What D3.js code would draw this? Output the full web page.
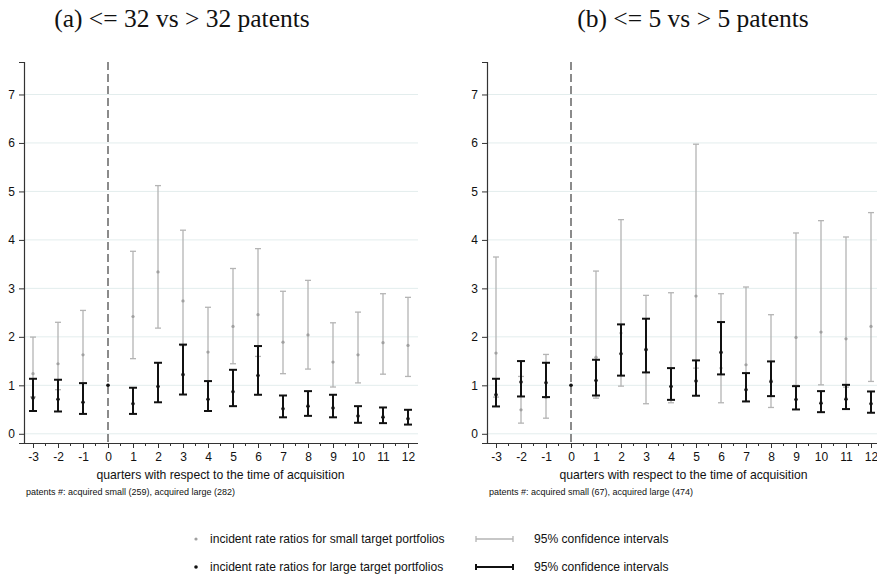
<!DOCTYPE html>
<html><head><meta charset="utf-8">
<script src="https://cdn.jsdelivr.net/npm/d3@7"></script>
<style>body{margin:0;background:#fff}svg{display:block}</style>
</head><body>
<svg id="chart" width="877" height="578"></svg>
<script>
const quarters = [-3,-2,-1,0,1,2,3,4,5,6,7,8,9,10,11,12];
const yTicks = [0,1,2,3,4,5,6,7];
const xTicks = [-3,-2,-1,0,1,2,3,4,5,6,7,8,9,10,11,12];

// panel (a)
const aSmallIRR = [1.24,1.445,1.63,1,2.42,3.34,2.74,1.685,2.215,2.457,1.89,2.04,1.48,1.63,1.88,1.823];
const aSmallLo  = [0.76,0.91,1.04,null,1.55,2.18,1.82,1.09,1.445,1.596,1.24,1.335,0.965,1.05,1.23,1.183];
const aSmallHi  = [1.995,2.30,2.545,null,3.765,5.12,4.2,2.61,3.41,3.82,2.94,3.165,2.29,2.51,2.89,2.815];
const aLargeIRR = [0.74,0.71,0.65,1,0.62,0.977,1.22,0.71,0.867,1.2,0.515,0.57,0.53,0.365,0.343,0.31];
const aLargeLo  = [0.47,0.46,0.41,null,0.41,0.65,0.81,0.47,0.57,0.805,0.34,0.37,0.34,0.227,0.22,0.19];
const aLargeHi  = [1.135,1.115,1.045,null,0.95,1.465,1.84,1.087,1.32,1.81,0.79,0.88,0.805,0.57,0.543,0.495];

// panel (b)
const bSmallIRR = [1.665,0.495,0.75,1,1.58,2.077,1.75,0.98,2.842,1.355,1.424,1.1,1.988,2.098,1.96,2.215];
const bSmallLo  = [0.757,0.22,0.322,null,0.735,0.983,0.62,0.64,1.355,0.64,0.67,0.543,1.0,1.01,0.963,1.08];
const bSmallHi  = [3.647,1.183,1.637,null,3.357,4.418,2.856,2.91,5.974,2.89,3.028,2.457,4.143,4.397,4.06,4.563];
const bLargeIRR = [0.805,1.066,1.053,1,1.1,1.65,1.734,0.977,1.087,1.679,0.908,1.073,0.708,0.632,0.715,0.62];
const bLargeLo  = [0.564,0.77,0.757,null,0.79,1.2,1.266,0.70,0.785,1.225,0.667,0.777,0.502,0.446,0.51,0.434];
const bLargeHi  = [1.135,1.5,1.465,null,1.527,2.257,2.374,1.355,1.514,2.305,1.252,1.493,0.983,0.88,1.01,0.873];

const titles = ["(a) <= 32 vs > 32 patents", "(b) <= 5 vs > 5 patents"];
const notes = ["patents #: acquired small (259), acquired large (282)", "patents #: acquired small (67), acquired large (474)"];
const xLabel = "quarters with respect to the time of acquisition";
const legendLabels = ["incident rate ratios for small target portfolios", "incident rate ratios for large target portfolios"];
const ciLabel = "95% confidence intervals";

const svg = d3.select("#chart");
const sans = "'Liberation Sans', Arial, sans-serif";
const serif = "'Liberation Serif', 'Times New Roman', serif";
const GRAY = "#b4b4b4", GRAYDOT = "#a0a0a0", BLACK = "#111";

function panel(left, titleX, title, note, sm, smLo, smHi, lg, lgLo, lgHi, rightEdge) {
  const g = svg.append("g");
  const x = d3.scaleLinear().domain([-3.36, 12.4]).range([left, left + 394]);
  const y = d3.scaleLinear().domain([-0.19, 7.67]).range([443, 62]);

  g.append("g").selectAll("line").data(yTicks).join("line")
    .attr("x1", left).attr("x2", rightEdge)
    .attr("y1", d => y(d)).attr("y2", d => y(d))
    .attr("stroke", "#e3eded").attr("stroke-width", 1);

  const ya = g.append("g").attr("transform", `translate(${left},0)`)
    .call(d3.axisLeft(y).tickValues(yTicks).tickSize(5).tickPadding(4).tickFormat(d => String(d)));
  const xa = g.append("g").attr("transform", `translate(0,443)`)
    .call(d3.axisBottom(x).tickValues(xTicks).tickSize(5).tickPadding(4).tickFormat(d => String(d)));
  g.append("g").selectAll("line").data(xTicks.slice(0, -1).map(d => d + 0.5)).join("line")
    .attr("x1", d => x(d)).attr("x2", d => x(d)).attr("y1", 443).attr("y2", 446)
    .attr("stroke", "#333").attr("stroke-width", 1);
  [ya, xa].forEach(a => {
    a.select(".domain").attr("stroke", "#333").attr("stroke-width", 1.2);
    a.selectAll(".tick line").attr("stroke", "#333");
    a.selectAll("text").attr("font-family", sans).attr("font-size", 12).attr("fill", "#111");
  });
  xa.select(".domain").attr("d", `M${left},0.5H${rightEdge}`);

  g.append("line").attr("x1", x(0)).attr("x2", x(0)).attr("y1", 62).attr("y2", 443)
    .attr("stroke", "#666").attr("stroke-width", 1.5).attr("stroke-dasharray", "8,4");

  function series(irr, lo, hi, color, dotColor, sw, cap, r) {
    const idx = quarters.map((q, i) => i).filter(i => lo[i] != null);
    const s = g.append("g");
    s.selectAll("line.v").data(idx).join("line").attr("class", "v")
      .attr("x1", i => x(quarters[i])).attr("x2", i => x(quarters[i]))
      .attr("y1", i => y(lo[i])).attr("y2", i => y(hi[i]))
      .attr("stroke", color).attr("stroke-width", sw);
    ["lo", "hi"].forEach(k => {
      const arr = k === "lo" ? lo : hi;
      s.selectAll("line." + k).data(idx).join("line").attr("class", k)
        .attr("x1", i => x(quarters[i]) - cap).attr("x2", i => x(quarters[i]) + cap)
        .attr("y1", i => y(arr[i])).attr("y2", i => y(arr[i]))
        .attr("stroke", color).attr("stroke-width", sw);
    });
    s.selectAll("circle").data(quarters.map((q, i) => i)).join("circle")
      .attr("cx", i => x(quarters[i])).attr("cy", i => y(irr[i])).attr("r", r)
      .attr("fill", dotColor);
  }
  series(sm, smLo, smHi, GRAY, GRAYDOT, 1.3, 3, 1.6);
  series(lg, lgLo, lgHi, BLACK, BLACK, 2, 4, 1.8);

  svg.append("text").attr("x", x(4.5)).attr("y", 479).attr("text-anchor", "middle")
    .attr("font-family", sans).attr("font-size", 12.2).attr("fill", "#111").text(xLabel);
  svg.append("text").attr("x", left + 2).attr("y", 495)
    .attr("font-family", sans).attr("font-size", 9).attr("fill", "#111").text(note);
  svg.append("text").attr("x", titleX).attr("y", 27).attr("text-anchor", "middle")
    .attr("font-family", serif).attr("font-size", 25.5).attr("fill", "#111").text(title);
}

panel(24, 182, titles[0], notes[0], aSmallIRR, aSmallLo, aSmallHi, aLargeIRR, aLargeLo, aLargeHi, 418);
panel(487, 693, titles[1], notes[1], bSmallIRR, bSmallLo, bSmallHi, bLargeIRR, bLargeLo, bLargeHi, 877);

const leg = svg.append("g");
const rows = [
  {y: 539, label: legendLabels[0], color: GRAY, dot: GRAYDOT, sw: 1.3, r: 1.6},
  {y: 567, label: legendLabels[1], color: BLACK, dot: BLACK, sw: 2, r: 1.8}
];
rows.forEach(rw => {
  leg.append("circle").attr("cx", 196).attr("cy", rw.y).attr("r", rw.r).attr("fill", rw.dot);
  leg.append("text").attr("x", 210).attr("y", rw.y + 4).attr("font-family", sans).attr("font-size", 12.1)
    .attr("fill", "#111").text(rw.label);
  leg.append("line").attr("x1", 476).attr("x2", 513).attr("y1", rw.y).attr("y2", rw.y)
    .attr("stroke", rw.color).attr("stroke-width", rw.sw);
  [476, 513].forEach(xx => leg.append("line").attr("x1", xx).attr("x2", xx)
    .attr("y1", rw.y - 3).attr("y2", rw.y + 3).attr("stroke", rw.color).attr("stroke-width", rw.sw));
  leg.append("text").attr("x", 534).attr("y", rw.y + 4).attr("font-family", sans).attr("font-size", 12.1)
    .attr("fill", "#111").text(ciLabel);
});
</script>
</body></html>
